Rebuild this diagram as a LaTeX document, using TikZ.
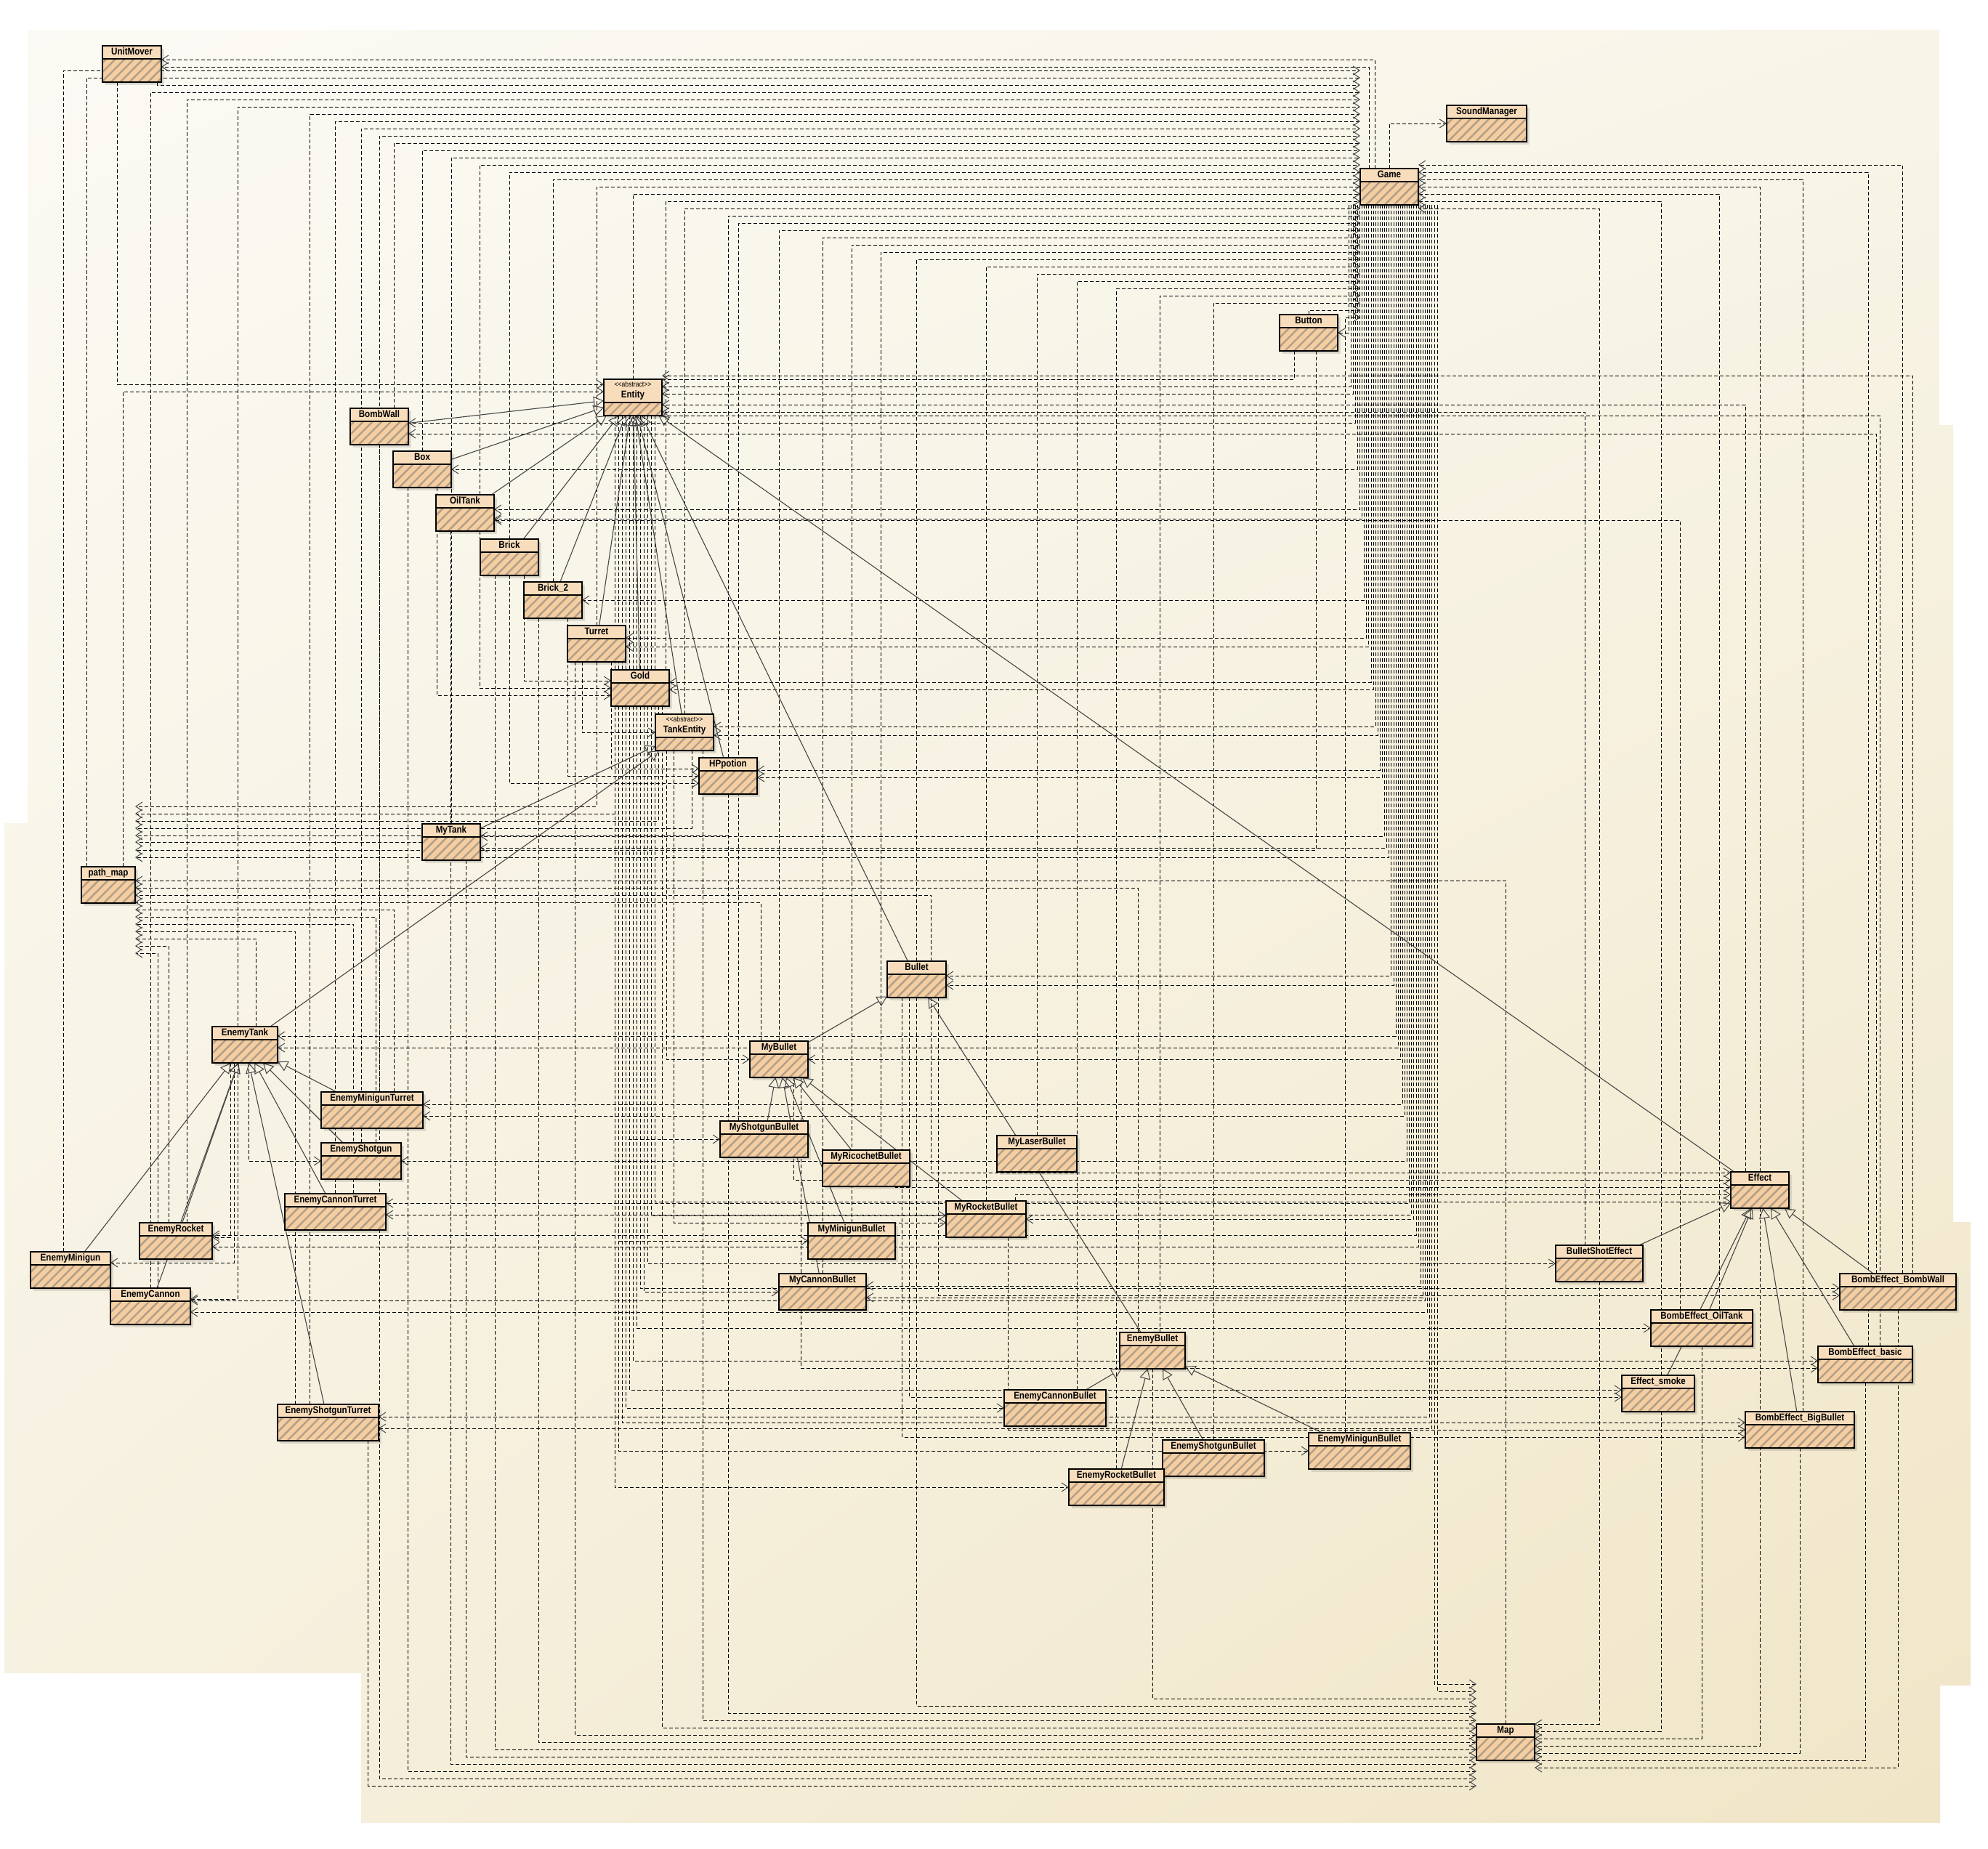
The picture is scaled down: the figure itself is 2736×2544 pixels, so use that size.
\documentclass[tikz,border=0pt]{standalone}
\usepackage{fontspec}
\newfontfamily\umlf[FakeStretch=0.86]{Liberation Sans}
\usetikzlibrary{arrows.meta,patterns.meta,shadings}
\definecolor{hdrc}{RGB}{248,221,188}
\definecolor{bodyc}{RGB}{244,206,160}
\definecolor{hatchc}{RGB}{176,158,138}
\definecolor{bgA}{RGB}{251,250,244}
\definecolor{bgB}{RGB}{248,245,232}
\definecolor{bgC}{RGB}{246,240,222}
\definecolor{bgD}{RGB}{240,229,198}
\definecolor{tipc}{RGB}{70,70,70}
\tikzset{
 clsnode/.style={draw=none, rectangle, inner sep=0pt, outer sep=0pt, minimum height=50pt},
 dep/.style={draw=black, line width=0.9pt, dash pattern=on 5pt off 3pt, -{Straight Barb[length=9pt,width=12pt,line width=1pt,color=tipc]}},
 inh/.style={draw=tipc, line width=1.1pt, -{Triangle[open,length=14pt,width=15pt,line width=1pt,color=tipc]}},
 nm/.style={font=\umlf\bfseries\fontsize{13.5}{14}\selectfont, inner sep=0pt, text height=9.7pt, text depth=2.8pt},
 st/.style={font=\umlf\fontsize{10}{11}\selectfont, inner sep=0pt, text height=7.5pt, text depth=2pt},
}
\newcommand\cls[4]{\node[clsnode, anchor=north west, minimum width={#4pt-#2pt}] (#1) at (#2,#3) {};}
\newcommand\boxbase[2]{%
  \fill[black,opacity=.10] ([shift={(2,2)}]#1.north west) rectangle ([shift={(2,2)}]#1.south east);
  \fill[black,opacity=.10] ([shift={(4,4)}]#1.north west) rectangle ([shift={(4,4)}]#1.south east);
  \fill[hdrc] (#1.north west) rectangle ([yshift=-#2pt]#1.north east);
  \fill[bodyc] ([yshift=-#2pt]#1.north west) rectangle (#1.south east);
  \fill[pattern={Lines[angle=45,distance=9pt,line width=2.4pt]},pattern color=hatchc] ([yshift=-#2pt]#1.north west) rectangle (#1.south east);
  \draw[line width=1.1pt] ([yshift=-#2pt]#1.north west) -- ([yshift=-#2pt]#1.north east);
  \draw[line width=1.3pt] (#1.north west) rectangle (#1.south east);}
\newcommand\boxn[2]{\boxbase{#1}{18}\node[nm] at ([yshift=-9.5pt]#1.north) {#2};}
\newcommand\boxa[2]{\boxbase{#1}{32}\node[st] at ([yshift=-8pt]#1.north) {<\kern0pt<abstract>\kern0pt>};\node[nm] at ([yshift=-22pt]#1.north) {#2};}
\newcommand\dep[6]{\draw[dep] ([xshift=#3pt]#1.#2) |- ([yshift=#6pt]#4.#5);}
\begin{document}
\begin{tikzpicture}[x=1pt,y=-1pt]
\useasboundingbox (0,0) rectangle (2736,2544);
\fill[white] (0,0) rectangle (2736,2544);
\shade[upper left=bgA, upper right=bgB, lower left=bgC, lower right=bgD]
 (38,41) -- (2669,41) -- (2669,585) -- (2688,585) -- (2688,1682) -- (2712,1682) -- (2712,2320) -- (2670,2320) -- (2670,2509) -- (497,2509) -- (497,2303) -- (6,2303) -- (6,1133) -- (38,1133) -- cycle;
% ---------- class nodes ----------
\cls{UnitMover}{141}{63}{222}
\cls{SoundManager}{1991}{145}{2101}
\cls{Game}{1872}{232}{1952}
\cls{Button}{1761}{433}{1841}
\cls{Entity}{831}{522}{911}
\cls{BombWall}{482}{562}{562}
\cls{Box}{541}{621}{621}
\cls{OilTank}{600}{681}{680}
\cls{Brick}{661}{742}{741}
\cls{Brick2}{721}{801}{801}
\cls{Turret}{781}{861}{861}
\cls{Gold}{841}{922}{921}
\cls{TankEntity}{902}{983}{982}
\cls{HPpotion}{962}{1043}{1042}
\cls{MyTank}{581}{1134}{661}
\cls{pathmap}{112}{1193}{186}
\cls{Bullet}{1221}{1323}{1302}
\cls{EnemyTank}{292}{1413}{382}
\cls{MyBullet}{1032}{1433}{1112}
\cls{EnemyMinigunTurret}{442}{1503}{582}
\cls{MyShotgunBullet}{991}{1543}{1112}
\cls{MyLaserBullet}{1372}{1563}{1482}
\cls{EnemyShotgun}{442}{1573}{552}
\cls{MyRicochetBullet}{1132}{1583}{1252}
\cls{Effect}{2382}{1613}{2462}
\cls{EnemyCannonTurret}{392}{1643}{531}
\cls{MyRocketBullet}{1302}{1653}{1412}
\cls{EnemyRocket}{192}{1683}{292}
\cls{MyMinigunBullet}{1112}{1683}{1232}
\cls{BulletShotEffect}{2141}{1714}{2261}
\cls{EnemyMinigun}{42}{1723}{152}
\cls{BEBombWall}{2532}{1753}{2692}
\cls{MyCannonBullet}{1072}{1753}{1192}
\cls{EnemyCannon}{152}{1773}{262}
\cls{BEOilTank}{2272}{1803}{2412}
\cls{EnemyBullet}{1541}{1834}{1631}
\cls{BEbasic}{2502}{1853}{2632}
\cls{Effectsmoke}{2232}{1893}{2332}
\cls{EnemyCannonBullet}{1382}{1913}{1522}
\cls{EnemyShotgunTurret}{382}{1933}{521}
\cls{BEBigBullet}{2402}{1943}{2552}
\cls{EnemyMinigunBullet}{1801}{1972}{1941}
\cls{EnemyShotgunBullet}{1600}{1982}{1740}
\cls{EnemyRocketBullet}{1471}{2022}{1602}
\cls{Map}{2032}{2373}{2112}
% ---------- dependencies into Game (west) ----------
\dep{EnemyMinigun}{north}{-10}{Game}{west}{160}
\dep{pathmap}{north}{-30}{Game}{west}{150}
\dep{UnitMover}{south}{35}{Game}{west}{140}
\dep{EnemyCannon}{north}{0}{Game}{west}{130}
\dep{EnemyRocket}{north}{15}{Game}{west}{120}
\dep{EnemyTank}{north}{-10}{Game}{west}{110}
\dep{EnemyShotgunTurret}{north}{-25}{Game}{west}{100}
\dep{EnemyCannonTurret}{north}{0}{Game}{west}{90}
\dep{EnemyShotgun}{north}{0}{Game}{west}{80}
\dep{EnemyMinigunTurret}{north}{10}{Game}{west}{70}
\dep{BombWall}{north}{20}{Game}{west}{60}
\dep{Box}{north}{0}{Game}{west}{50}
\dep{MyTank}{north}{0}{Game}{west}{40}
\dep{OilTank}{north}{20}{Game}{west}{30}
\dep{Brick}{north}{0}{Game}{west}{20}
\dep{Brick2}{north}{0}{Game}{west}{10}
\dep{Turret}{north}{0}{Game}{west}{0}
\dep{Entity}{north}{0}{Game}{west}{-10}
\dep{Gold}{north}{35}{Game}{west}{-20}
\dep{TankEntity}{north}{0}{Game}{west}{-30}
\dep{HPpotion}{north}{0}{Game}{west}{-40}
\dep{MyShotgunBullet}{north}{-35}{Game}{west}{-50}
\dep{MyBullet}{north}{0}{Game}{west}{-60}
\dep{MyCannonBullet}{north}{0}{Game}{west}{-70}
\dep{MyMinigunBullet}{north}{0}{Game}{west}{-80}
\dep{MyRicochetBullet}{north}{20}{Game}{west}{-90}
\dep{Bullet}{north}{0}{Game}{west}{-100}
\dep{MyRocketBullet}{north}{0}{Game}{west}{-110}
\dep{MyLaserBullet}{north}{0}{Game}{west}{-120}
\dep{EnemyCannonBullet}{north}{30}{Game}{west}{-130}
\dep{EnemyRocketBullet}{north}{0}{Game}{west}{-140}
\dep{EnemyBullet}{north}{10}{Game}{west}{-150}
\dep{EnemyShotgunBullet}{north}{0}{Game}{west}{-160}
\dep{Button}{north}{0}{Game}{west}{-170}
\dep{EnemyMinigunBullet}{north}{-20}{Game}{west}{-180}
% ---------- Game to others ----------
\draw[dep] (Game.north) |- (SoundManager.west);
\dep{Game}{north}{-20}{UnitMover}{east}{6}
\dep{Game}{north}{-28}{UnitMover}{east}{-4}
\dep{Game}{south}{-56.0}{Button}{east}{0}
\dep{Game}{south}{-52.9}{Entity}{east}{15}
\dep{Game}{south}{-49.8}{Entity}{east}{5}
\dep{Game}{south}{-46.7}{BombWall}{east}{5}
\dep{Game}{south}{-43.6}{Box}{east}{0}
\dep{Game}{south}{-40.5}{OilTank}{east}{5}
\dep{Game}{south}{-37.4}{OilTank}{east}{-8}
\dep{Game}{south}{-34.3}{Brick2}{east}{0}
\dep{Game}{south}{-31.2}{Turret}{east}{8}
\dep{Game}{south}{-28.1}{Turret}{east}{-4}
\dep{Game}{south}{-25.0}{Gold}{east}{8}
\dep{Game}{south}{-21.9}{Gold}{east}{-2}
\dep{Game}{south}{-18.8}{TankEntity}{east}{8}
\dep{Game}{south}{-15.7}{TankEntity}{east}{-4}
\dep{Game}{south}{-12.6}{HPpotion}{east}{8}
\dep{Game}{south}{-9.5}{HPpotion}{east}{-2}
\dep{Game}{south}{-6.4}{MyTank}{east}{8}
\dep{Game}{south}{-3.3}{MyTank}{east}{-8}
\dep{Game}{south}{-0.2}{pathmap}{east}{38}
\dep{Game}{south}{2.9}{Bullet}{east}{5}
\dep{Game}{south}{6.0}{Bullet}{east}{-8}
\dep{Game}{south}{9.1}{EnemyTank}{east}{12}
\dep{Game}{south}{12.2}{EnemyTank}{east}{-4}
\dep{Game}{south}{15.3}{MyBullet}{east}{0}
\dep{Game}{south}{18.4}{EnemyMinigunTurret}{east}{8}
\dep{Game}{south}{21.5}{EnemyMinigunTurret}{east}{-8}
\dep{Game}{south}{24.6}{EnemyShotgun}{east}{0}
\dep{Game}{south}{27.7}{EnemyCannonTurret}{east}{12}
\dep{Game}{south}{30.8}{EnemyCannonTurret}{east}{-4}
\dep{Game}{south}{33.9}{MyRocketBullet}{east}{0}
\dep{Game}{south}{37.0}{EnemyRocket}{east}{8}
\dep{Game}{south}{40.1}{EnemyRocket}{east}{-8}
\dep{Game}{south}{43.2}{MyCannonBullet}{east}{8}
\dep{Game}{south}{46.3}{MyCannonBullet}{east}{-8}
\dep{Game}{south}{49.4}{EnemyCannon}{east}{8}
\dep{Game}{south}{52.5}{EnemyCannon}{east}{-8}
\dep{Game}{south}{55.6}{EnemyShotgunTurret}{east}{8}
\dep{Game}{south}{58.7}{EnemyShotgunTurret}{east}{-8}
\dep{Game}{south}{62}{Map}{west}{80}
\dep{Game}{south}{66}{Map}{west}{70}
% ---------- effects into Game (east) ----------
\dep{BEBombWall}{north}{6}{Game}{east}{30}
\dep{BEbasic}{north}{4}{Game}{east}{20}
\dep{BEBigBullet}{north}{4}{Game}{east}{10}
\dep{Effect}{north}{0}{Game}{east}{0}
\dep{BEOilTank}{north}{24}{Game}{east}{-10}
\dep{Effectsmoke}{north}{4}{Game}{east}{-20}
\dep{BulletShotEffect}{north}{0}{Game}{east}{-30}
% ---------- into path_map ----------
\dep{Turret}{south}{0}{pathmap}{east}{108}
\dep{Entity}{south}{-20}{pathmap}{east}{98}
\dep{Gold}{south}{25}{pathmap}{east}{88}
\dep{TankEntity}{south}{10}{pathmap}{east}{78}
\dep{HPpotion}{south}{0}{pathmap}{east}{68}
\draw[dep] (MyTank.west) -- (MyTank.west -| pathmap.east);
\dep{Button}{south}{10}{pathmap}{east}{48}
\dep{EnemyCannon}{north}{10}{pathmap}{east}{-94}
\dep{EnemyRocket}{north}{-10}{pathmap}{east}{-84}
\dep{EnemyTank}{north}{15}{pathmap}{east}{-74}
\dep{EnemyShotgunTurret}{north}{-45}{pathmap}{east}{-64}
\dep{EnemyCannonTurret}{north}{25}{pathmap}{east}{-54}
\dep{EnemyShotgun}{north}{20}{pathmap}{east}{-44}
\dep{EnemyMinigunTurret}{north}{30}{pathmap}{east}{-34}
\dep{MyBullet}{north}{-25}{pathmap}{east}{-24}
\dep{Bullet}{north}{20}{pathmap}{east}{-14}
\dep{EnemyBullet}{north}{-20}{pathmap}{east}{-4}
\dep{Map}{north}{0}{pathmap}{east}{6}
% ---------- Entity ----------
\dep{BEBombWall}{north}{20}{Entity}{east}{30}
\dep{Button}{south}{-20}{Entity}{east}{25}
\dep{Effect}{north}{-20}{Entity}{east}{-10}
\dep{BulletShotEffect}{north}{-20}{Entity}{east}{-20}
\dep{BEbasic}{north}{20}{Entity}{east}{-25}
\dep{UnitMover}{south}{-20}{Entity}{west}{18}
\dep{pathmap}{north}{20}{Entity}{west}{8}
\dep{BEBombWall}{north}{-30}{BombWall}{east}{-10}
\dep{BEOilTank}{north}{-30}{OilTank}{east}{-10}
% ---------- small groups ----------
\dep{Turret}{south}{-20}{TankEntity}{west}{0}
\dep{Brick}{south}{20}{Gold}{west}{10}
\dep{OilTank}{south}{20}{Gold}{west}{0}
\dep{Box}{south}{20}{Gold}{west}{-10}
\dep{Turret}{south}{20}{HPpotion}{west}{10}
\dep{Brick2}{south}{20}{HPpotion}{west}{0}
\dep{Brick}{south}{0}{HPpotion}{west}{-10}
\dep{EnemyTank}{south}{-20}{EnemyRocket}{east}{5}
\dep{EnemyTank}{south}{-15}{EnemyMinigun}{east}{10}
\dep{EnemyTank}{south}{-10}{EnemyCannon}{east}{10}
\dep{EnemyTank}{south}{5}{EnemyShotgun}{west}{0}
% ---------- lower right targets ----------
\dep{TankEntity}{south}{-25}{MyBullet}{west}{0}
\dep{Gold}{south}{-20}{MyShotgunBullet}{west}{0}
\dep{Gold}{south}{-30}{MyMinigunBullet}{west}{0}
\dep{Bullet}{south}{20}{Effect}{west}{24}
\dep{MyBullet}{south}{20}{Effect}{west}{14}
\dep{MyRicochetBullet}{south}{40}{Effect}{west}{4}
\dep{MyRocketBullet}{north}{40}{Effect}{west}{-6}
\dep{Entity}{south}{30}{Effect}{west}{-16}
\dep{Entity}{south}{25}{MyRocketBullet}{west}{5}
\dep{TankEntity}{south}{-15}{MyRocketBullet}{west}{-5}
\dep{Entity}{south}{20}{BulletShotEffect}{west}{0}
\dep{Entity}{south}{15}{MyCannonBullet}{west}{0}
\dep{Entity}{south}{10}{BEBombWall}{west}{5}
\dep{Bullet}{south}{30}{BEBombWall}{west}{-5}
\dep{Entity}{south}{5}{BEOilTank}{west}{0}
\dep{Entity}{south}{0}{BEbasic}{west}{5}
\dep{MyBullet}{south}{30}{BEbasic}{west}{-5}
\dep{Entity}{south}{-5}{Effectsmoke}{west}{5}
\dep{Bullet}{south}{-10}{Effectsmoke}{west}{-5}
\dep{Entity}{south}{-10}{EnemyCannonBullet}{west}{0}
\dep{Entity}{south}{-15}{BEBigBullet}{west}{10}
\dep{MyRocketBullet}{south}{30}{BEBigBullet}{west}{0}
\dep{Bullet}{south}{-20}{BEBigBullet}{west}{-10}
\dep{Entity}{south}{-20}{EnemyMinigunBullet}{west}{0}
\dep{Entity}{south}{-25}{EnemyRocketBullet}{west}{0}
% ---------- into Map ----------
\dep{EnemyShotgunTurret}{south}{55}{Map}{west}{-60}
\dep{BombWall}{south}{0}{Map}{west}{-50}
\dep{Box}{south}{-20}{Map}{west}{-40}
\dep{OilTank}{south}{-20}{Map}{west}{-30}
\dep{MyTank}{south}{20}{Map}{west}{-20}
\dep{Brick}{south}{-20}{Map}{west}{-10}
\dep{Brick2}{south}{-20}{Map}{west}{0}
\dep{Turret}{south}{-30}{Map}{west}{10}
\dep{Gold}{south}{30}{Map}{west}{20}
\dep{TankEntity}{south}{25}{Map}{west}{30}
\dep{HPpotion}{south}{0}{Map}{west}{40}
\dep{Bullet}{south}{0}{Map}{west}{50}
\dep{EnemyBullet}{south}{0}{Map}{west}{60}
\dep{BulletShotEffect}{south}{0}{Map}{east}{25}
\dep{Effectsmoke}{south}{4}{Map}{east}{15}
\dep{BEOilTank}{south}{0}{Map}{east}{5}
\dep{Effect}{south}{0}{Map}{east}{-5}
\dep{BEBigBullet}{south}{0}{Map}{east}{-15}
\dep{BEbasic}{south}{0}{Map}{east}{-25}
\dep{BEBombWall}{south}{0}{Map}{east}{-35}
% ---------- generalizations ----------
\foreach \s/\t in {BombWall/Entity, Box/Entity, OilTank/Entity, Brick/Entity, Brick2/Entity, Turret/Entity, Gold/Entity, TankEntity/Entity, HPpotion/Entity, Bullet/Entity, Effect/Entity,
  MyTank/TankEntity, EnemyTank/TankEntity,
  EnemyMinigunTurret/EnemyTank, EnemyShotgun/EnemyTank, EnemyCannonTurret/EnemyTank, EnemyRocket/EnemyTank, EnemyMinigun/EnemyTank, EnemyCannon/EnemyTank, EnemyShotgunTurret/EnemyTank,
  MyBullet/Bullet, EnemyBullet/Bullet,
  MyShotgunBullet/MyBullet, MyRicochetBullet/MyBullet, MyMinigunBullet/MyBullet, MyRocketBullet/MyBullet, MyCannonBullet/MyBullet,
  EnemyCannonBullet/EnemyBullet, EnemyRocketBullet/EnemyBullet, EnemyShotgunBullet/EnemyBullet, EnemyMinigunBullet/EnemyBullet,
  BulletShotEffect/Effect, BEOilTank/Effect, BEBombWall/Effect, BEbasic/Effect, BEBigBullet/Effect, Effectsmoke/Effect}
  {\draw[inh] (\s) -- (\t);}
% ---------- class boxes ----------
\boxn{UnitMover}{UnitMover}
\boxn{SoundManager}{SoundManager}
\boxn{Game}{Game}
\boxn{Button}{Button}
\boxa{Entity}{Entity}
\boxn{BombWall}{BombWall}
\boxn{Box}{Box}
\boxn{OilTank}{OilTank}
\boxn{Brick}{Brick}
\boxn{Brick2}{Brick\_2}
\boxn{Turret}{Turret}
\boxn{Gold}{Gold}
\boxa{TankEntity}{TankEntity}
\boxn{HPpotion}{HPpotion}
\boxn{MyTank}{MyTank}
\boxn{pathmap}{path\_map}
\boxn{Bullet}{Bullet}
\boxn{EnemyTank}{EnemyTank}
\boxn{MyBullet}{MyBullet}
\boxn{EnemyMinigunTurret}{EnemyMinigunTurret}
\boxn{MyShotgunBullet}{MyShotgunBullet}
\boxn{MyLaserBullet}{MyLaserBullet}
\boxn{EnemyShotgun}{EnemyShotgun}
\boxn{MyRicochetBullet}{MyRicochetBullet}
\boxn{Effect}{Effect}
\boxn{EnemyCannonTurret}{EnemyCannonTurret}
\boxn{MyRocketBullet}{MyRocketBullet}
\boxn{EnemyRocket}{EnemyRocket}
\boxn{MyMinigunBullet}{MyMinigunBullet}
\boxn{BulletShotEffect}{BulletShotEffect}
\boxn{EnemyMinigun}{EnemyMinigun}
\boxn{BEBombWall}{BombEffect\_BombWall}
\boxn{MyCannonBullet}{MyCannonBullet}
\boxn{EnemyCannon}{EnemyCannon}
\boxn{BEOilTank}{BombEffect\_OilTank}
\boxn{EnemyBullet}{EnemyBullet}
\boxn{BEbasic}{BombEffect\_basic}
\boxn{Effectsmoke}{Effect\_smoke}
\boxn{EnemyCannonBullet}{EnemyCannonBullet}
\boxn{EnemyShotgunTurret}{EnemyShotgunTurret}
\boxn{BEBigBullet}{BombEffect\_BigBullet}
\boxn{EnemyMinigunBullet}{EnemyMinigunBullet}
\boxn{EnemyShotgunBullet}{EnemyShotgunBullet}
\boxn{EnemyRocketBullet}{EnemyRocketBullet}
\boxn{Map}{Map}
\end{tikzpicture}
\end{document}
